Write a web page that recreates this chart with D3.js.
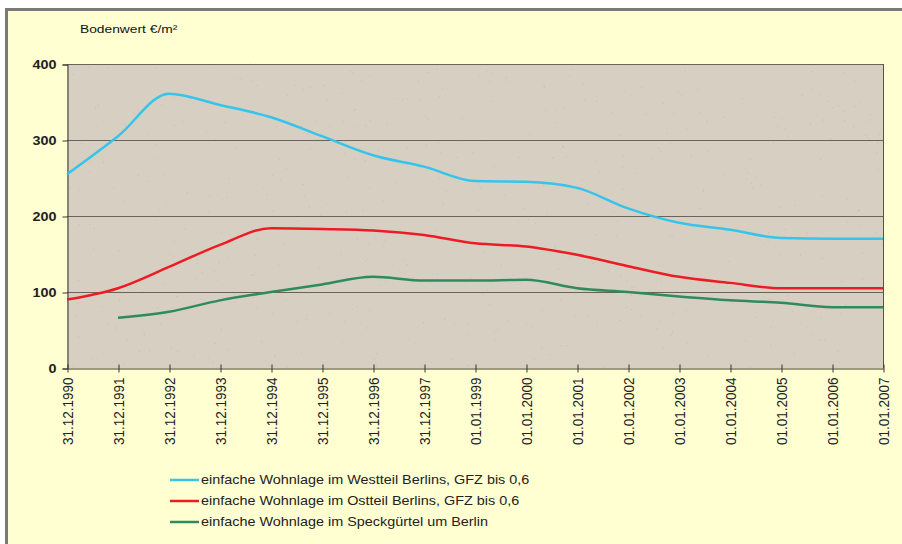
<!DOCTYPE html>
<html>
<head>
<meta charset="utf-8">
<script src="https://cdn.jsdelivr.net/npm/d3@7"></script>
<style>
    body { margin: 0; background: #fff; }
    svg { display: block; font-family: Arial, "Liberation Sans", sans-serif; }
</style>
</head>
<body>
<svg id="chart" width="902" height="544"></svg>
<script>
// data
const dates = [
    "31.12.1990", "31.12.1991", "31.12.1992", "31.12.1993", "31.12.1994",
    "31.12.1995", "31.12.1996", "31.12.1997", "01.01.1999", "01.01.2000",
    "01.01.2001", "01.01.2002", "01.01.2003", "01.01.2004", "01.01.2005",
    "01.01.2006", "01.01.2007"
];
const west = [255, 305, 361, 346, 330, 305, 280, 265, 246, 245, 237, 210, 191, 182, 171, 170, 170];
const east = [90, 105, 133, 162, 184, 183, 181, 175, 164, 160, 149, 134, 120, 112, 105, 105, 105];
const speck = [null, 66, 74, 89, 100, 110, 120, 115, 115, 116, 105, 100, 94, 89, 86, 80, 80];
const yTicks = [0, 100, 200, 300, 400];
const seriesNames = [
    "einfache Wohnlage im Westteil Berlins, GFZ bis 0,6",
    "einfache Wohnlage im Ostteil Berlins, GFZ bis 0,6",
    "einfache Wohnlage im Speckgürtel um Berlin"
];
const seriesColors = ["#35c4ea", "#ec1c24", "#2e8b5e"];

const svg = d3.select("#chart");
const font = "Arial, 'Liberation Sans', sans-serif";
const stretch = 1.2; // the original text is drawn a little wide

// frame
svg.append("rect").attr("x", 6.5).attr("y", 9.5).attr("width", 920).attr("height", 560)
    .attr("fill", "#ffffd2").attr("stroke", "#7a7a7a").attr("stroke-width", 3);

const plotLeft = 67, plotRight = 883, plotTop = 64, plotBottom = 368;

const x = d3.scalePoint().domain(dates).range([plotLeft, plotRight]);
const y = d3.scaleLinear().domain([0, 400]).range([plotBottom, plotTop]);

// plot area background
svg.append("rect").attr("x", plotLeft).attr("y", plotTop)
    .attr("width", plotRight - plotLeft).attr("height", plotBottom - plotTop)
    .attr("fill", "#d8cfc3");

// a bit of speckle texture
const rng = d3.randomLcg(7);
const specks = d3.range(500).map(() => [plotLeft + rng() * (plotRight - plotLeft), plotTop + rng() * (plotBottom - plotTop)]);
svg.append("g").selectAll("circle").data(specks).enter().append("circle")
    .attr("cx", (d) => d[0]).attr("cy", (d) => d[1]).attr("r", 0.6)
    .attr("fill", "#b9ae9f").attr("opacity", 0.5);

// grid lines
svg.append("g").selectAll("line").data(yTicks.slice(1)).enter().append("line")
    .attr("x1", plotLeft).attr("x2", plotRight)
    .attr("y1", (d) => y(d) + 0.5).attr("y2", (d) => y(d) + 0.5)
    .attr("stroke", "#6b625a").attr("stroke-width", 1);

// right border
svg.append("line").attr("x1", plotRight + 0.5).attr("x2", plotRight + 0.5)
    .attr("y1", plotTop).attr("y2", plotBottom).attr("stroke", "#5a5248");

// y axis
const yAxis = d3.axisLeft(y).tickValues(yTicks).tickSize(5).tickPadding(5);
const gy = svg.append("g").attr("transform", `translate(${plotLeft + 0.5},0.5)`).call(yAxis);
gy.select(".domain").attr("stroke", "#3a342e");
gy.selectAll(".tick line").attr("stroke", "#3a342e");
gy.selectAll(".tick text")
    .attr("font-size", 12).attr("font-weight", "bold")
    .attr("fill", "#222").attr("font-family", font)
    .attr("x", 0)
    .attr("transform", `translate(-11,0) scale(${stretch},1)`);

// x axis
const xAxis = d3.axisBottom(x).tickSizeInner(4).tickSizeOuter(0).tickPadding(8);
const gx = svg.append("g").attr("transform", `translate(0.5,${plotBottom + 0.5})`).call(xAxis);
gx.select(".domain").attr("stroke", "#3a342e");
gx.selectAll(".tick line").attr("y1", -4).attr("stroke", "#3a342e");
gx.selectAll(".tick text")
    .attr("font-size", 13.5).attr("fill", "#222")
    .attr("font-family", font)
    .attr("transform", "rotate(-90) scale(1,1.1)")
    .attr("x", -9).attr("y", 0).attr("dy", "0.35em")
    .attr("text-anchor", "end");

// y title
svg.append("text")
    .attr("transform", `translate(80,33) scale(${stretch},1)`)
    .attr("font-size", 11.5).attr("fill", "#111")
    .text("Bodenwert €/m²");

// lines
const line = d3.line()
    .defined((d) => d.v != null)
    .x((d) => x(d.date))
    .y((d) => y(d.v))
    .curve(d3.curveMonotoneX);

[west, east, speck].forEach((values, i) => {
    const pts = values.map((v, j) => ({ date: dates[j], v: v }));
    svg.append("path").datum(pts)
        .attr("d", line)
        .attr("fill", "none")
        .attr("stroke", seriesColors[i])
        .attr("stroke-width", 2.5)
        .attr("stroke-linejoin", "round");
});

// legend
const legend = svg.append("g").attr("transform", "translate(170,480)");
seriesNames.forEach((name, i) => {
    const row = legend.append("g").attr("transform", `translate(0,${i * 21})`);
    row.append("line").attr("x1", 0).attr("x2", 29).attr("y1", 0).attr("y2", 0)
        .attr("stroke", seriesColors[i]).attr("stroke-width", 2.5);
    row.append("text")
        .attr("transform", `translate(31,0) scale(${stretch},1)`)
        .attr("dy", "0.35em")
        .attr("font-size", 12).attr("fill", "#222").text(name);
});
</script>
</body>
</html>
